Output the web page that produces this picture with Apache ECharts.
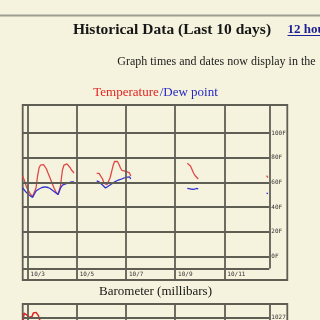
<!DOCTYPE html>
<html><head><meta charset="utf-8">
<style>html,body{margin:0;padding:0;background:#f5f3dd;}#c{width:320px;height:320px;}</style>
<script src="https://cdn.jsdelivr.net/npm/echarts@6/dist/echarts.min.js"></script>
</head><body><div id="c"></div>
<script>
// Hours since 10/3 00:00 ; null = gap in record
const tempHours = [-4.7,-2.9,-1.0,1.0,2.9,4.9,6.8,8.3,9.8,11.2,12.7,14.1,15.6,17.1,18.5,20.0,22.0,23.9,25.9,27.8,29.8,31.2,32.2,33.2,34.1,35.6,37.1,38.5,40.0,41.5,42.9,44.4,45.4,
  56,
  67.5,69.8,71.7,73.2,74.6,76.1,77.6,79.0,80.5,82.0,83.4,84.9,86.3,87.8,89.3,90.7,92.2,94.1,96.1,98.0,99.5,100.7,
  130,
  155.9,157.6,159.0,160.5,162.0,163.4,164.9,166.6,
  200,
  233.2,234.6];
const temperature = [65.1,61.1,56.2,53.0,50.5,48.5,48.9,55.4,65.1,71.6,74.0,74.9,74.4,73.2,70.8,67.6,63.5,59.4,55.4,52.1,50.1,49.3,57.0,64.3,70.0,74.0,75.3,74.9,74.0,72.0,70.0,68.4,67.6,
  null,
  67.3,67.2,65.9,62.7,59.4,57.8,58.2,59.4,63.5,68.4,73.2,76.9,78.1,76.9,74.4,71.6,69.6,68.8,68.8,68.8,67.6,65.1,
  null,
  75.4,74.9,73.2,70.4,67.6,65.5,63.9,62.7,
  null,
  65.5,63.9];
const dewPoint = [55.4,53.8,51.7,50.1,48.5,47.7,48.1,53.0,54.6,54.6,54.6,55.8,56.2,56.4,56.2,55.8,55.0,53.8,52.6,51.3,50.1,49.7,55.4,57.0,57.8,58.4,58.8,59.2,59.6,60.0,60.3,60.4,60.3,
  null,
  61.1,60.3,59.0,57.8,56.2,55.4,56.2,57.0,57.8,58.6,59.4,60.3,60.9,61.5,61.9,62.3,62.7,63.5,64.1,64.3,64.5,62.7,
  null,
  55.1,54.2,54.6,55.0,54.2,54.6,55.0,54.6,
  null,
  51.3,50.9];
const dateHours = [0,48,96,144,192];
const dateLabels = ['10/3','10/5','10/7','10/9','10/11'];
const tempTicks = [0,20,40,60,80,100];
const tempTickSuffix = 'F';
const baroHours = [-4.7,-4.1,-3.4,-1.5,-0.2,1.0,2.9,4.4,5.7,8.3,10.5,12.2,14.1];
const barometer = [1025.8,1026.6,1027.8,1027.9,1027.4,1027.05,1027.0,1027.2,1027.8,1027.9,1027.4,1026.5,1025.5];
const baroTicks = [1027];

const GRID = '#5e5e54';
const pair = (xs, ys) => xs.map((x,i) => [x, ys[i] === null ? '-' : ys[i]]);
const chart = echarts.init(document.getElementById('c'), null, {renderer:'canvas'});
const gridLine = {color: GRID, width: 1.8, type: 'solid'};
const vLines = dateHours.map(h => ({xAxis: h}));
const tLines = tempTicks.map(v => ({yAxis: v}));
const bLines = baroTicks.map(v => ({yAxis: v}));

chart.setOption({
  animation: false,
  backgroundColor: '#f5f3dd',
  grid: [
    {left: 22.7, right: 50.7, top: 105, bottom: 40, show: false, outerBoundsMode: 'none'},
    {left: 22.7, right: 50.7, top: 304, bottom: 0, show: false, outerBoundsMode: 'none'}
  ],
  xAxis: [
    {type:'value', gridIndex:0, min:-4.7, max:235.9,
     axisLine:{show:false}, axisTick:{show:false}, splitLine:{show:false},
     axisLabel:{customValues: dateHours, inside:true, margin:3, align:'left', padding:[0,0,0,3],
       fontSize:6, fontFamily:'DejaVu Sans Mono', color:'#333',
       formatter: v => dateLabels[dateHours.indexOf(v)] || ''}},
    {type:'value', gridIndex:1, min:-4.7, max:235.9,
     axisLine:{show:false}, axisTick:{show:false}, splitLine:{show:false}, axisLabel:{show:false}}
  ],
  yAxis: [
    {type:'value', gridIndex:0, position:'right', min:-19.2, max:122.7,
     axisLine:{show:false}, axisTick:{show:false}, splitLine:{show:false},
     axisLabel:{customValues: tempTicks, margin:2, fontSize:6, fontFamily:'DejaVu Sans Mono', color:'#333',
       formatter: v => v + tempTickSuffix}},
    {type:'value', gridIndex:1, position:'right', min:1026.63, max:1029.3,
     axisLine:{show:false}, axisTick:{show:false}, splitLine:{show:false},
     axisLabel:{customValues: baroTicks, margin:2, fontSize:6, fontFamily:'DejaVu Sans Mono', color:'#333',
       formatter: v => String(v)}}
  ],
  series: [
    {type:'line', xAxisIndex:0, yAxisIndex:0, data:[], z:1, silent:true,
     markLine:{silent:true, symbol:['none','none'], label:{show:false}, lineStyle:gridLine, animation:false,
       data: vLines.concat(tLines).concat([{yAxis:-9.9},
         [{coord:[235.9,-9.9]},{coord:[235.9,122.7]}]])}},
    {type:'line', xAxisIndex:1, yAxisIndex:1, data:[], z:1, silent:true,
     markLine:{silent:true, symbol:['none','none'], label:{show:false}, lineStyle:gridLine, animation:false,
       data: vLines.concat(bLines).concat([{xAxis:235.9}])}},
    {name:'Temperature', type:'line', xAxisIndex:0, yAxisIndex:0, data: pair(tempHours, temperature),
     showSymbol:false, connectNulls:false, z:3, lineStyle:{color:'#e04848', width:1.3}},
    {name:'Dew point', type:'line', xAxisIndex:0, yAxisIndex:0, data: pair(tempHours, dewPoint),
     showSymbol:false, connectNulls:false, z:3, lineStyle:{color:'#3232d2', width:1.3}},
    {name:'Barometer', type:'line', xAxisIndex:1, yAxisIndex:1, data: pair(baroHours, barometer),
     showSymbol:false, z:3, lineStyle:{color:'#e02020', width:1.5}}
  ],
  graphic: [
    {type:'line', shape:{x1:0,y1:15.5,x2:320,y2:15.5}, style:{stroke:'#9e9d92', lineWidth:2}},
    {type:'text', x:73, y:29.8, style:{text:'Historical Data (Last 10 days)', font:'bold 15.5px "Liberation Serif"', fill:'#161616', align:'left', verticalAlign:'middle'}},
    {type:'text', x:287.5, y:29.5, style:{text:'12 hour', font:'bold 13px "Liberation Serif"', fill:'#1e1e96', align:'left', verticalAlign:'middle'}},
    {type:'line', shape:{x1:287.5,y1:35.5,x2:320,y2:35.5}, style:{stroke:'#1e1e96', lineWidth:1}},
    {type:'text', x:117.3, y:62, style:{text:'Graph times and dates now display in the', font:'12px "Liberation Serif"', fill:'#222', align:'left', verticalAlign:'middle'}},
    {type:'text', x:93.3, y:93, style:{text:'Temperature', font:'13px "Liberation Serif"', fill:'#e02424', align:'left', verticalAlign:'middle'}},
    {type:'text', x:159.7, y:93, style:{text:'/Dew point', font:'13px "Liberation Serif"', fill:'#2626c4', align:'left', verticalAlign:'middle'}},
    {type:'text', x:99, y:292, style:{text:'Barometer (millibars)', font:'13px "Liberation Serif"', fill:'#161616', align:'left', verticalAlign:'middle'}},
    {type:'rect', shape:{x:22.7,y:105,width:264.6,height:175}, style:{fill:'none', stroke:GRID, lineWidth:1.8}},
    {type:'rect', shape:{x:22.7,y:304,width:264.6,height:200}, style:{fill:'none', stroke:GRID, lineWidth:1.8}}
  ]
});
</script></body></html>
